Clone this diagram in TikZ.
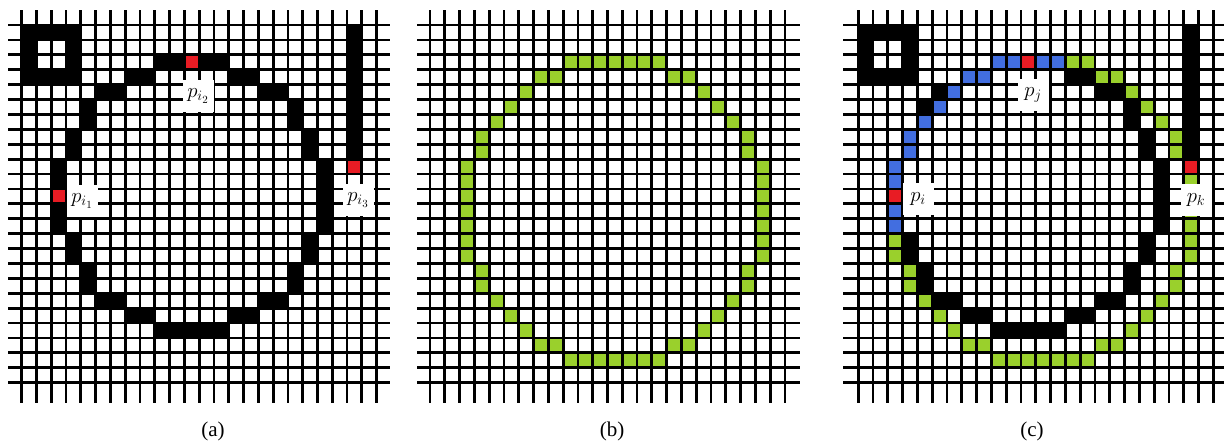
\documentclass[tikz,border=0pt]{standalone}
\usepackage{fontspec}
\setmainfont{Liberation Serif}
\begin{document}
\begin{tikzpicture}[x=1pt,y=-1pt,
  gridline/.style={line width=2.8pt, black},
  lbl/.style={fill=white, inner sep=0pt, minimum width=31pt, minimum height=32pt, font=\fontsize{22}{22}\selectfont},
  captxt/.style={font=\fontsize{21}{21}\selectfont, inner sep=0pt}]
\useasboundingbox (0,0) rectangle (1224,445);
\definecolor{cgreen}{RGB}{154,208,44}
\definecolor{cblue}{RGB}{66,110,224}
\definecolor{cred}{RGB}{232,28,36}
\def\dx{14.79}\def\dy{14.9}\def\yo{25}
\newcommand\pcell[4]{\fill[#4] ({#1+#2*\dx},{\yo+#3*\dy}) rectangle ({#1+(#2+1)*\dx},{\yo+(#3+1)*\dy});}
\def\sqcells{0/0,1/0,2/0,3/0,0/1,3/1,0/2,3/2,0/3,1/3,2/3,3/3}
\def\barcells{22/0,22/1,22/2,22/3,22/4,22/5,22/6,22/7,22/8}
\def\circA{9/2,10/2,12/2,13/2,7/3,8/3,14/3,15/3,5/4,6/4,16/4,17/4,4/5,18/5,4/6,18/6,3/7,19/7,3/8,19/8,2/9,20/9,2/10,20/10,20/11,2/12,20/12,2/13,20/13,3/14,19/14,3/15,19/15,4/16,18/16,4/17,18/17,5/18,6/18,16/18,17/18,7/19,8/19,14/19,15/19,9/20,10/20,11/20,12/20,13/20}
\def\circB{9/2,10/2,11/2,12/2,13/2,14/2,15/2,7/3,8/3,16/3,17/3,6/4,18/4,5/5,19/5,4/6,20/6,3/7,21/7,3/8,21/8,2/9,2/10,2/11,2/12,2/13,2/14,2/15,22/9,22/10,22/11,22/12,22/13,22/14,22/15,3/16,21/16,3/17,21/17,4/18,20/18,5/19,19/19,6/20,18/20,7/21,8/21,16/21,17/21,9/22,10/22,11/22,12/22,13/22,14/22,15/22}
\def\blueC{2/9,2/10,2/12,2/13,3/7,3/8,4/6,5/5,6/4,7/3,8/3,9/2,10/2,12/2,13/2}
\def\greenC{14/2,15/2,16/3,17/3,18/4,19/5,20/6,21/7,21/8,22/10,22/11,22/12,22/13,22/14,22/15,2/14,2/15,3/16,21/16,3/17,21/17,4/18,20/18,5/19,19/19,6/20,18/20,7/21,8/21,16/21,17/21,9/22,10/22,11/22,12/22,13/22,14/22,15/22}
\def\redC{2/11,11/2,22/9}
% ---- panel (a) cells
\foreach \c/\r in \sqcells {\pcell{21.7}{\c}{\r}{black}}
\foreach \c/\r in \barcells {\pcell{21.7}{\c}{\r}{black}}
\foreach \c/\r in \circA {\pcell{21.7}{\c}{\r}{black}}
\foreach \c/\r in \redC {\pcell{21.7}{\c}{\r}{cred}}
% ---- panel (b) cells
\foreach \c/\r in \circB {\pcell{430}{\c}{\r}{cgreen}}
% ---- panel (c) cells
\foreach \c/\r in \sqcells {\pcell{858.3}{\c}{\r}{black}}
\foreach \c/\r in \barcells {\pcell{858.3}{\c}{\r}{black}}
\foreach \c/\r in \circA {\pcell{858.3}{\c}{\r}{black}}
\foreach \c/\r in \greenC {\pcell{858.3}{\c}{\r}{cgreen}}
\foreach \c/\r in \blueC {\pcell{858.3}{\c}{\r}{cblue}}
\foreach \c/\r in \redC {\pcell{858.3}{\c}{\r}{cred}}
% ---- grids
\foreach \xo/\xl/\xr in {21.7/8/390, 430/417/800, 858.3/843/1224} {
  \foreach \i in {0,...,24} {
    \draw[gridline] ({\xo+\i*\dx},10) -- ({\xo+\i*\dx},403);
    \draw[gridline] (\xl,{\yo+\i*\dy}) -- (\xr,{\yo+\i*\dy});
  }
}
% ---- labels
\node[lbl] (pi1) at (82,201) {$p_{i_1}$};
\node[lbl] (pi2) at (198,96) {$p_{i_2}$};
\node[lbl] (pi3) at (358,200) {$p_{i_3}$};
\node[lbl] (pi) at (918,199) {$p_{i}$};
\node[lbl] (pj) at (1033,95) {$p_{j}$};
\node[lbl] (pk) at (1196,200) {$p_{k}$};
\node[captxt] (ca) at (213,431) {(a)};
\node[captxt] (cb) at (612,431) {(b)};
\node[captxt] (cc) at (1032,431) {(c)};
\end{tikzpicture}
\end{document}
